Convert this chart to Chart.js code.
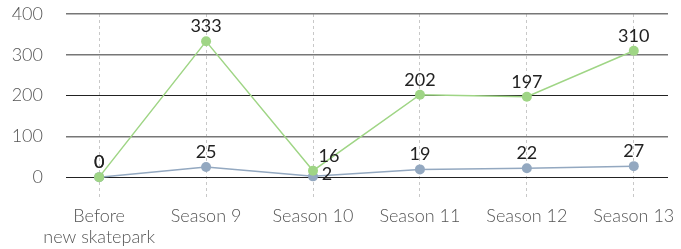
<!DOCTYPE html>
<html>
<head>
<meta charset="utf-8">
<script src="https://cdn.jsdelivr.net/npm/chart.js@4/dist/chart.umd.min.js"></script>
<style>
  html, body { margin: 0; padding: 0; background: #fff; }
  #wrap { width: 681px; height: 249px; }
</style>
</head>
<body>
<div id="wrap"><canvas id="chart"></canvas></div>
<script>
const categories = [['Before', 'new skatepark'], 'Season 9', 'Season 10', 'Season 11', 'Season 12', 'Season 13'];
const greenValues = [0, 333, 16, 202, 197, 310];
const blueValues = [0, 25, 2, 19, 22, 27];
const yTicks = [0, 100, 200, 300, 400];

const green = '#9fd585';
const blue = '#93a8c0';

// value labels above each point, with a nudge where the two series collide
const valueLabels = {
    id: 'valueLabels',
    afterDatasetsDraw(chart) {
        const ctx = chart.ctx;
        ctx.save();
        ctx.font = '18px Lato';
        ctx.fillStyle = '#222';
        ctx.textAlign = 'center';
        ctx.textBaseline = 'alphabetic';
        const nudges = [{ 2: [16, 0] }, { 2: [14, 13] }];
        for (let d = chart.data.datasets.length - 1; d >= 0; d--) {
            const meta = chart.getDatasetMeta(d);
            meta.data.forEach((pt, i) => {
                const n = nudges[d][i] || [0, 0];
                ctx.fillText(String(chart.data.datasets[d].data[i].y), pt.x + n[0], pt.y - 9 + n[1]);
            });
        }
        ctx.restore();
    }
};

const toPoints = vals => vals.map((v, i) => ({ x: i, y: v }));
const isDark = c => c.tick && (c.tick.value === 0 || c.tick.value === 200);

new Chart(document.getElementById('chart'), {
    type: 'line',
    data: {
        datasets: [{
            data: toPoints(greenValues),
            borderColor: green,
            backgroundColor: green,
            borderWidth: 1.5,
            pointRadius: 5,
            pointBorderWidth: 0,
            tension: 0
        }, {
            data: toPoints(blueValues),
            borderColor: blue,
            backgroundColor: blue,
            borderWidth: 1.5,
            pointRadius: 5,
            pointBorderWidth: 0,
            tension: 0
        }]
    },
    options: {
        responsive: true,
        maintainAspectRatio: false,
        animation: false,
        layout: { padding: { left: 0, right: 13, top: 14, bottom: 0 } },
        plugins: {
            legend: { display: false },
            tooltip: { enabled: false }
        },
        scales: {
            x: {
                type: 'linear',
                min: -0.31,
                max: 5.32,
                afterBuildTicks: axis => { axis.ticks = categories.map((c, i) => ({ value: i })); },
                afterFit: s => { s.paddingLeft = 0; s.paddingRight = 0; s.height = 49; },
                ticks: {
                    callback: v => categories[v],
                    color: '#555',
                    font: { family: 'Lato', size: 18, weight: 300, lineHeight: 1.15 },
                    padding: 6,
                    maxRotation: 0,
                    autoSkip: false
                },
                grid: {
                    color: '#c8c8c8',
                    drawTicks: false
                },
                border: { display: false, dash: [3, 3] }
            },
            y: {
                min: -56,
                max: 400,
                afterBuildTicks: axis => { axis.ticks = yTicks.map(v => ({ value: v })); },
                afterFit: s => { s.width = 66; s.paddingTop = 0; s.paddingBottom = 0; },
                ticks: {
                    color: '#555',
                    font: { family: 'Lato', size: 18, weight: 300 },
                    padding: 23
                },
                grid: {
                    color: c => isDark(c) ? '#222' : '#777',
                    lineWidth: c => isDark(c) ? 1 : 1.5,
                    drawTicks: false
                },
                border: { display: false }
            }
        }
    },
    plugins: [valueLabels]
});
</script>
</body>
</html>
